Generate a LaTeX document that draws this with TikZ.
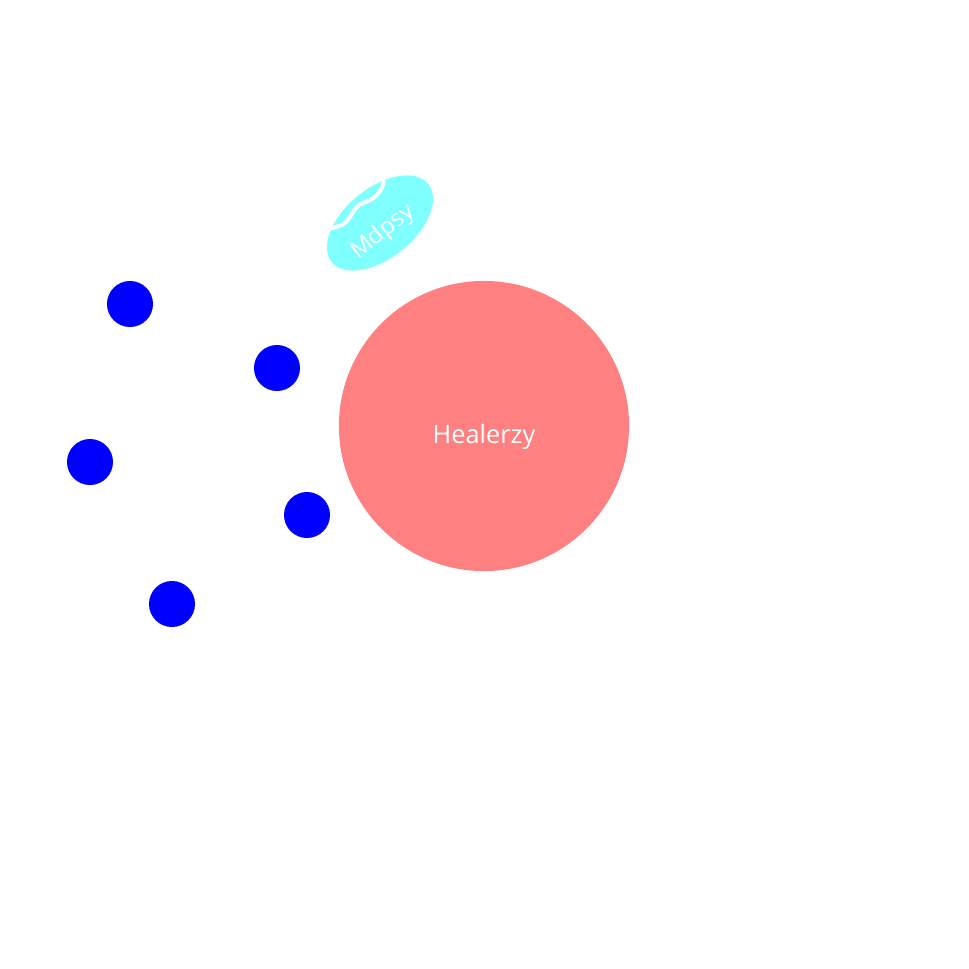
\documentclass[tikz,border=0pt]{standalone}
\usepackage{fontspec}
\setsansfont{Open Sans}
\usetikzlibrary{shapes.geometric}
\definecolor{blobcyan}{RGB}{128,255,255}
\definecolor{corered}{RGB}{255,128,128}

\begin{document}
\begin{tikzpicture}[
    x=0.01cm, y=-0.01cm,
    dot/.style={circle, fill=blue, minimum size=0.46cm, inner sep=0pt},
    core/.style={circle, fill=corered, minimum size=2.9cm, inner sep=0pt},
    blob/.style={ellipse, fill=blobcyan, minimum width=1.24cm, minimum height=0.7cm, inner sep=0pt},
    crack/.style={white, line width=1.1pt, line cap=round},
    lbl/.style={text=white, inner sep=0pt}
]
\useasboundingbox (0,0) rectangle (969,969);

% Main circle
\node[core] (heal) at (484,426) {};
\node[lbl, font=\sffamily\fontsize{7.2}{9}\selectfont] (healtxt) at (484,437) {Healerzy};

% Cyan blob
\node[blob, rotate=39] (mdpsy) at (380,223) {};
\draw[crack] (384,181) .. controls (381,195) and (372,200) .. (363,203)
    .. controls (354,206) and (352,216) .. (346,222)
    .. controls (342,226) and (336,227) .. (328,229);
\node[lbl, font=\sffamily\fontsize{6.7}{8}\selectfont, rotate=39] (mdpsylbl) at (383,232) {Mdpsy};

% Blue dots
\node[dot] (d1) at (130,304) {};
\node[dot] (d2) at (277,368) {};
\node[dot] (d3) at (90,462) {};
\node[dot] (d4) at (307,515) {};
\node[dot] (d5) at (172,604) {};

\end{tikzpicture}
\end{document}
